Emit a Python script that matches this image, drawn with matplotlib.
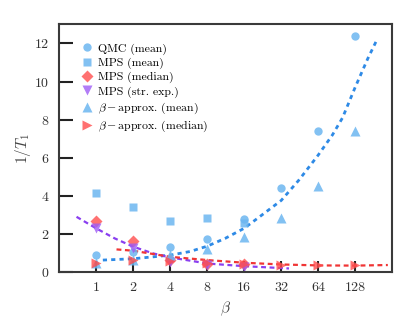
import numpy as np
import matplotlib
matplotlib.use("Agg")
import matplotlib.pyplot as plt

plt.rcParams['font.family'] = 'serif'
plt.rcParams['font.serif'] = ['cmr10', 'DejaVu Serif']
plt.rcParams['mathtext.fontset'] = 'cm'
plt.rcParams['axes.formatter.use_mathtext'] = True

# marker data
beta = [1, 2, 4, 8, 16, 32, 64, 128]
qmc_mean = [0.89, 1.05, 1.33, 1.73, 2.76, 4.39, 7.42, 12.38]
beta_mps = [1, 2, 4, 8, 16]
mps_mean = [4.13, 3.43, 2.68, 2.86, 2.55]
mps_median = [2.66, 1.62, 0.63, 0.45, 0.40]
mps_strexp = [2.33, 1.24, 0.54, 0.36, 0.25]
approx_mean = [0.48, 0.65, 0.89, 1.21, 1.82, 2.82, 4.51, 7.42]
approx_median = [0.47, 0.63, 0.56, 0.46, 0.40, 0.37, 0.35, 0.35]

# fit curves
fit_qmc_x = [1.13, 2, 2.9, 4, 5.8, 8, 11.2, 16, 21, 32, 44.6, 64, 83.6, 101, 128, 162, 190]
fit_qmc_y = [0.63, 0.70, 0.80, 0.89, 1.08, 1.36, 1.77, 2.30, 2.87, 3.76, 4.83, 6.14, 7.20, 8.10, 9.70, 11.20, 12.12]
fit_str_x = [0.69, 1, 1.41, 2, 2.9, 4, 8, 16, 37]
fit_str_y = [2.90, 2.29, 1.77, 1.33, 0.98, 0.77, 0.45, 0.31, 0.19]
fit_med_x = [1.46, 2, 4, 8, 16, 32, 64, 128, 236]
fit_med_y = [1.19, 1.12, 0.80, 0.63, 0.49, 0.40, 0.35, 0.34, 0.37]

light_blue = '#6cb6f0'
red = '#ff4d4d'
purple = '#9f5cf5'

fig = plt.figure(figsize=(4.15, 3.29), dpi=100)
ax = fig.add_axes([0.143, 0.173, 0.802, 0.753])

ax.plot(fit_qmc_x, fit_qmc_y, color='#2e8ae6', lw=2, dashes=(1.5, 1.5))
ax.plot(fit_str_x, fit_str_y, color='#8a3ff0', lw=1.6, dashes=(2.2, 1.6))
ax.plot(fit_med_x, fit_med_y, color='#f03535', lw=1.6, dashes=(2.2, 1.6))

ax.plot(beta, qmc_mean, 'o', color=light_blue, ms=6, alpha=0.85, mec='none', label='QMC (mean)')
ax.plot(beta_mps, mps_mean, 's', color=light_blue, ms=6, alpha=0.85, mec='none', label='MPS (mean)')
ax.plot(beta_mps, mps_median, 'D', color=red, ms=6, alpha=0.8, mec='none', label='MPS (median)')
ax.plot(beta_mps, mps_strexp, 'v', color=purple, ms=6.5, alpha=0.8, mec='none', label='MPS (str. exp.)')
ax.plot(beta, approx_mean, '^', color=light_blue, ms=6.5, alpha=0.85, mec='none', label=r'$\beta-$approx. (mean)')
ax.plot(beta, approx_median, '>', color=red, ms=6.5, alpha=0.8, mec='none', label=r'$\beta-$approx. (median)')

ax.set_xscale('log', base=2)
ax.set_xlim(0.5, 256)
ax.set_ylim(0, 13)
ax.set_xticks(beta)
ax.set_xticklabels([str(b) for b in beta])
ax.minorticks_off()
ax.set_yticks([0, 2, 4, 6, 8, 10, 12])
ax.tick_params(direction='in', length=8, width=1.5, color='#222222', labelsize=10, pad=7)
ax.tick_params(axis='y', length=10)
for s in ax.spines.values():
    s.set_linewidth(1.5)
    s.set_color('#3a3a3a')

ax.set_xlabel(r'$\beta$', fontsize=11, color='#444444')
ax.set_ylabel(r'$1/T_1$', fontsize=11, color='#444444', labelpad=1)
for lab in ax.get_xticklabels() + ax.get_yticklabels():
    lab.set_color('#333333')

ax.legend(loc='upper left', frameon=False, fontsize=8.5, handletextpad=0.2,
          labelspacing=0.25, borderaxespad=1.2, handlelength=1.5)

fig.savefig('out.png', dpi=100)
